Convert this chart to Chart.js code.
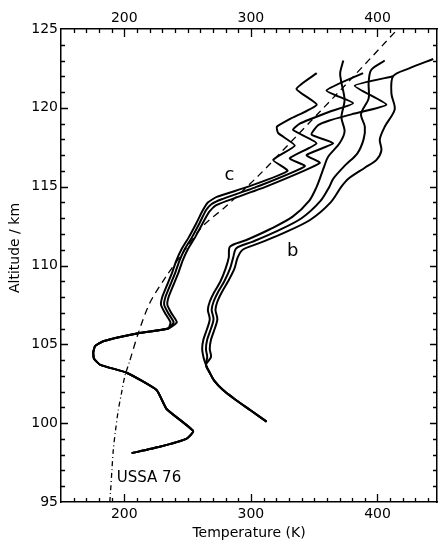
<!DOCTYPE html>
<html>
<head>
<meta charset="utf-8">
<script src="https://cdn.jsdelivr.net/npm/chart.js@4.4.0/dist/chart.umd.min.js"></script>
<style>
  html, body { margin: 0; padding: 0; background: #fff; }
  canvas { display: block; }
</style>
</head>
<body>
<canvas id="myChart" width="438" height="542"></canvas>
<script>
// tick labels
var xTicks = [200, 300, 400];
var yTicks = [95, 100, 105, 110, 115, 120, 125];

// USSA 76 reference profile (K, km)
var ussaT   = [188.5, 189, 190.2, 191.3, 193, 195.2, 198, 200.5, 204.5, 211, 220, 233, 248, 262, 281, 306, 330, 355, 380, 416];
var ussaAlt = [95, 95.5, 97, 98.3, 99.5, 100.8, 102, 103, 104, 105.7, 107.6, 109.3, 111, 112.5, 113.8, 115.7, 117.7, 119.8, 121.9, 125];

// profiles "c" : common lower part, then three branches
var cLowT   = [205.8, 228, 249, 254.4, 233.4, 225.5, 201.9, 181, 176, 175.5, 177, 183.4, 211, 234.7];
var cLowAlt = [98.1, 98.5, 99.0, 99.5, 100.9, 102.1, 103.2, 103.7, 104.1, 104.5, 104.9, 105.2, 105.7, 106.0];

var c1T   = [236.5, 232, 229, 230, 234, 238, 241, 245, 251, 257, 262, 266, 273, 298, 329, 317.6, 334.7, 321.5, 320.5, 331, 352, 336, 352];
var c1Alt = [106.4, 107.0, 107.5, 108.0, 108.8, 109.6, 110.3, 111.0, 111.8, 112.7, 113.5, 114.0, 114.35, 115.0, 116.0, 116.7, 117.6, 118.4, 118.8, 119.3, 120.2, 121.2, 122.2];

var c2T   = [239, 234.5, 231.5, 232.5, 236.5, 240.5, 243.5, 247.5, 253.5, 259.5, 264.5, 269, 277, 305, 342.6, 330.7, 351.8, 333.3, 338.6, 362, 380.7, 359.7, 388.6];
var c2Alt = [106.4, 107.0, 107.5, 108.0, 108.8, 109.6, 110.3, 111.0, 111.8, 112.7, 113.5, 113.9, 114.2, 115.0, 116.3, 116.8, 117.75, 118.6, 119.0, 119.75, 120.3, 121.1, 122.2];

var c3T   = [241.5, 237, 234, 235, 239, 243, 246, 250, 256, 262, 267, 272, 281, 312, 354.4, 344, 365, 347.9, 353, 362, 380, 407, 382, 412.3];
var c3Alt = [106.4, 107.0, 107.5, 108.0, 108.8, 109.6, 110.3, 111.0, 111.8, 112.7, 113.4, 113.8, 114.1, 115.0, 116.5, 117.0, 117.75, 118.3, 118.9, 119.2, 119.6, 120.2, 121.4, 122.0];

// profiles "b" : common lower part, then three branches
var bLowT   = [312.4, 300, 286, 278, 271, 267.5, 264.5];
var bLowAlt = [100.1, 100.8, 101.6, 102.1, 102.7, 103.2, 103.7];

var b1T   = [262.5, 261.5, 262.5, 265.5, 267.5, 266, 267.5, 271, 276, 280, 282.5, 283.5, 296, 315, 333, 346, 352, 354.4, 358, 361, 370, 374, 371.5, 374, 371.5, 370.5, 373];
var b1Alt = [104.2, 104.7, 105.3, 106.0, 106.6, 107.2, 107.7, 108.3, 109.0, 109.8, 110.5, 111.2, 111.6, 112.3, 113.1, 114.1, 115.0, 115.5, 116.3, 116.9, 117.75, 118.5, 119.4, 120.5, 121.6, 122.2, 123.0];

var b2T   = [265.5, 264.5, 265.5, 268.5, 270.5, 269, 270.5, 274, 279, 283.5, 286, 288.5, 301, 321, 340, 355, 362, 365, 375, 384, 389, 390, 387, 393, 393, 395, 405.7];
var b2Alt = [104.2, 104.7, 105.3, 106.0, 106.6, 107.2, 107.7, 108.3, 109.0, 109.8, 110.5, 111.1, 111.5, 112.2, 113.0, 114.1, 115.0, 115.5, 116.4, 117.1, 118.0, 118.8, 119.6, 120.6, 121.6, 122.4, 123.0];

var b3T   = [268.5, 267.5, 268.5, 271.5, 273.5, 272, 273.5, 277, 282, 287, 289.5, 293.5, 306, 327, 347, 363, 371.5, 377, 390, 399.2, 403.1, 401.8, 405.7, 413.6, 411, 412.3, 425, 444];
var b3Alt = [104.2, 104.7, 105.3, 106.0, 106.6, 107.2, 107.7, 108.3, 109.0, 109.8, 110.5, 111.0, 111.4, 112.1, 112.9, 114.0, 115.0, 115.5, 116.2, 116.7, 117.3, 118.0, 118.8, 119.9, 120.9, 122.0, 122.5, 123.1];

// text written on the plot
var noteText = ['c', 'b', 'USSA 76'];
var noteT    = [283, 333, 219.5];
var noteAlt  = [115.7, 110.9, 96.5];

function pts(t, a) {
  return t.map((v, i) => ({ x: v, y: a[i] }));
}

function profile(t, a, tension) {
  return {
    data: pts(t, a),
    showLine: true,
    borderColor: '#000',
    borderWidth: 2,
    pointRadius: 0,
    tension: tension,
    fill: false
  };
}

var ussa = profile(ussaT, ussaAlt, 0.3);
ussa.borderWidth = 1.3;
ussa.segment = {
  borderDash: ctx => ctx.p0.parsed.y < 104 ? [5, 3, 1, 3] : [7, 5]
};

var datasets = [
  ussa,
  profile(cLowT.concat(c1T), cLowAlt.concat(c1Alt), 0.15),
  profile(cLowT.concat(c2T), cLowAlt.concat(c2Alt), 0.15),
  profile(cLowT.concat(c3T), cLowAlt.concat(c3Alt), 0.15),
  profile(bLowT.concat(b1T), bLowAlt.concat(b1Alt), 0.3),
  profile(bLowT.concat(b2T), bLowAlt.concat(b2Alt), 0.3),
  profile(bLowT.concat(b3T), bLowAlt.concat(b3Alt), 0.3)
];

// inward ticks, y title and notes
const frame = {
  id: 'frame',
  afterDraw(chart) {
    const { ctx, chartArea: a, scales } = chart;
    const x = scales.x, y = scales.y;
    ctx.save();
    ctx.strokeStyle = '#000';
    ctx.lineWidth = 1.3;
    ctx.beginPath();
    for (let t = 160; t < x.max; t += 10) {
      const px = Math.round(x.getPixelForValue(t)) + 0.5;
      const len = t % 100 === 0 ? 8 : 4;
      ctx.moveTo(px, a.bottom); ctx.lineTo(px, a.bottom - len);
      ctx.moveTo(px, a.top); ctx.lineTo(px, a.top + len);
    }
    for (let h = 96; h < 125; h++) {
      const py = Math.round(y.getPixelForValue(h)) + 0.5;
      const len = h % 5 === 0 ? 7 : 4;
      ctx.moveTo(a.left, py); ctx.lineTo(a.left + len, py);
      ctx.moveTo(a.right, py); ctx.lineTo(a.right - len, py);
    }
    ctx.stroke();

    ctx.fillStyle = '#000';
    ctx.textAlign = 'center';
    ctx.textBaseline = 'middle';
    noteText.forEach((s, i) => {
      ctx.font = (i < 2 ? '18px' : '15px') + ' "DejaVu Sans"';
      ctx.fillText(s, x.getPixelForValue(noteT[i]), y.getPixelForValue(noteAlt[i]));
    });

    ctx.font = '14px "DejaVu Sans"';
    ctx.translate(15, 248);
    ctx.rotate(-Math.PI / 2);
    ctx.fillText('Altitude / km', 0, 0);
    ctx.restore();
  }
};

Chart.defaults.font.family = '"DejaVu Sans"';
Chart.defaults.color = '#000';

const tickFont = { size: 14 };

new Chart('myChart', {
  type: 'scatter',
  data: { datasets: datasets },
  options: {
    responsive: false,
    animation: false,
    layout: { padding: 0 },
    plugins: { legend: { display: false }, tooltip: { enabled: false } },
    scales: {
      x: {
        type: 'linear', position: 'bottom', min: 150, max: 447,
        afterBuildTicks: s => { s.ticks = xTicks.map(v => ({ value: v })); },
        afterFit: s => { s.height = 40; },
        grid: { display: false, drawTicks: false },
        border: { display: true, color: '#000', width: 1.5 },
        ticks: { font: tickFont, padding: 4, maxRotation: 0 },
        title: { display: true, text: 'Temperature (K)', font: { size: 14 }, padding: { top: 0, bottom: 0 } }
      },
      x2: {
        type: 'linear', position: 'top', min: 150, max: 447,
        afterBuildTicks: s => { s.ticks = xTicks.map(v => ({ value: v })); },
        afterFit: s => { s.height = 29; },
        grid: { display: false, drawTicks: false },
        border: { display: true, color: '#000', width: 1.5 },
        ticks: { font: tickFont, padding: 2, maxRotation: 0 }
      },
      y: {
        type: 'linear', position: 'left', min: 95, max: 125,
        afterBuildTicks: s => { s.ticks = yTicks.map(v => ({ value: v })); },
        afterFit: s => { s.width = 61; },
        grid: { display: false, drawTicks: false },
        border: { display: true, color: '#000', width: 1.5 },
        ticks: { font: tickFont, padding: 3 }
      },
      y2: {
        type: 'linear', position: 'right', min: 95, max: 125,
        afterFit: s => { s.width = 1; },
        grid: { display: false, drawTicks: false },
        border: { display: true, color: '#000', width: 1.5 },
        ticks: { display: false }
      }
    }
  },
  plugins: [frame]
});
</script>
</body>
</html>
